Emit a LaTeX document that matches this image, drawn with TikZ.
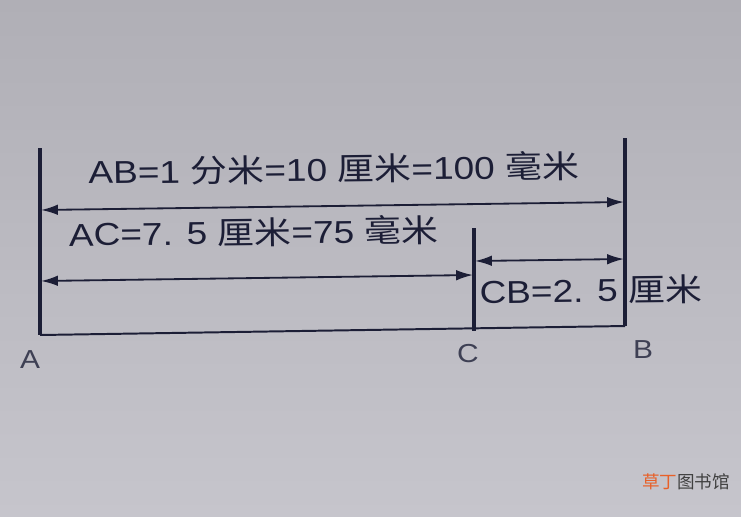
\documentclass[tikz,border=0pt]{standalone}
\usepackage{fontspec}
\setmainfont{Liberation Sans}
\newfontfamily\cjk{Noto Sans CJK SC}
\usetikzlibrary{arrows.meta}
\definecolor{ink}{RGB}{28,30,54}
\definecolor{bgtop}{RGB}{176,175,182}
\definecolor{bgmid}{RGB}{224,223,229}
\definecolor{bgbot}{RGB}{198,197,204}
\definecolor{wmorange}{RGB}{232,96,40}
\tikzset{
bar/.style={
  draw=ink,
  line width=2.2pt},
baseline/.style={draw=ink, line width=1.4pt},
dimline/.style={
  draw=ink,
  line width=1.3pt,
  {Latex[length=12pt,width=7.5pt]}-{Latex[length=12pt,width=7.5pt]}},
dimtext/.style={
  font=\fontsize{22.5}{22.5}\selectfont,
  text=ink,
  xscale=1.17,
  rotate=0.8,
  anchor=base,
  inner sep=0pt},
endlabel/.style={
  font=\fontsize{18.5}{18.5}\selectfont,
  text=ink!85,
  xscale=1.15,
  anchor=base,
  inner sep=0pt}
}

\begin{document}
\begin{tikzpicture}[x=0.025cm, y=-0.025cm]
    \fill[top color=bgtop, middle color=bgmid, bottom color=bgbot] (0,0) rectangle (741,516);
    \useasboundingbox (0,0) rectangle (741,516);
    % end points of the segment
    \coordinate (Atop) at (40,148);
    \coordinate (Abot) at (40,335);
    \coordinate (Btop) at (625,138);
    \coordinate (Bbot) at (625,326);
    \coordinate (Ctop) at (474,228);
    \coordinate (Cbot) at (474,331);
    \path [bar] (Atop) -- (Abot);
    \path [bar] (Btop) -- (Bbot);
    \path [bar] (Ctop) -- (Cbot);
    \path [baseline] (Abot) -- (Bbot);
    % dimension arrows
    \coordinate (abL) at (41,210);
    \coordinate (abR) at (624,202);
    \coordinate (acL) at (41,281);
    \coordinate (acR) at (473,275);
    \coordinate (cbL) at (475,261);
    \coordinate (cbR) at (624,259);
    \path [dimline] (abL) -- (abR);
    \path [dimline] (acL) -- (acR);
    \path [dimline] (cbL) -- (cbR);
    \node [dimtext] (ABtext) at (334,181) {AB=1 {\cjk 分米}=10 {\cjk 厘米}=100 {\cjk 毫米}};
    \node [dimtext] (ACtext) at (254,244) {AC=7. 5 {\cjk 厘米}=75 {\cjk 毫米}};
    \node [dimtext] (CBtext) at (591,302) {CB=2. 5 {\cjk 厘米}};
    \node [endlabel] (labA) at (30,368) {A};
    \node [endlabel] (labC) at (468,362) {C};
    \node [endlabel] (labB) at (643,358) {B};
    % watermark
    \node [font=\cjk\fontsize{12.5}{12.5}\selectfont, inner sep=0pt] (mark) at (686,482)
      {{\color{wmorange}草丁}{\color{black!75}图书馆}};
\end{tikzpicture}
\end{document}
